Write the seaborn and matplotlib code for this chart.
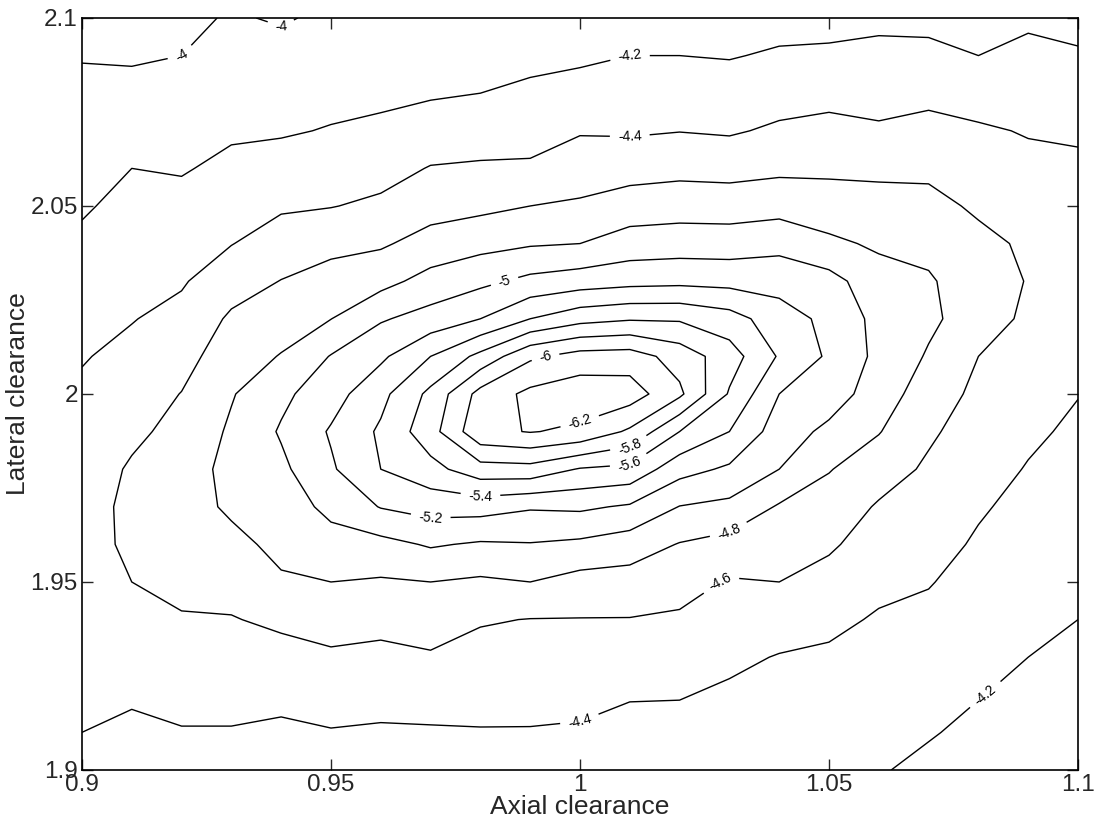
import numpy as np
import matplotlib
matplotlib.use("Agg")
import matplotlib.pyplot as plt
import seaborn as sns

# axis grid (x = axial clearance, y = lateral clearance, top row first)
axial = [0.90, 0.91, 0.92, 0.93, 0.94, 0.95, 0.96, 0.97, 0.98, 0.99, 1.00,
         1.01, 1.02, 1.03, 1.04, 1.05, 1.06, 1.07, 1.08, 1.09, 1.10]
lateral = [2.10, 2.09, 2.08, 2.07, 2.06, 2.05, 2.04, 2.03, 2.02, 2.01, 2.00,
           1.99, 1.98, 1.97, 1.96, 1.95, 1.94, 1.93, 1.92, 1.91, 1.90]

# field values, one list per lateral row
row_210 = [-3.95, -3.94, -3.95, -4.02, -3.98, -4.04, -4.03, -4.04, -4.05, -4.06, -4.08, -4.10, -4.11, -4.13, -4.14, -4.14, -4.16, -4.16, -4.15, -4.17, -4.15]
row_209 = [-3.99, -3.98, -4.00, -4.07, -4.07, -4.095, -4.10, -4.11, -4.12, -4.15, -4.165, -4.20, -4.20, -4.19, -4.22, -4.23, -4.245, -4.237, -4.20, -4.244, -4.217]
row_208 = [-4.04, -4.05, -4.06, -4.12, -4.125, -4.15, -4.16, -4.18, -4.20, -4.236, -4.274, -4.287, -4.297, -4.28, -4.32, -4.342, -4.33, -4.35, -4.315, -4.314, -4.296]
row_207 = [-4.09, -4.127, -4.124, -4.176, -4.183, -4.21, -4.237, -4.287, -4.31, -4.326, -4.385, -4.378, -4.395, -4.379, -4.43, -4.456, -4.425, -4.46, -4.425, -4.387, -4.377]
row_206 = [-4.135, -4.20, -4.186, -4.24, -4.27, -4.30, -4.33, -4.41, -4.424, -4.427, -4.50, -4.52, -4.543, -4.532, -4.56, -4.565, -4.56, -4.56, -4.50, -4.45, -4.43]
row_205 = [-4.18, -4.25, -4.252, -4.317, -4.375, -4.393, -4.436, -4.524, -4.553, -4.60, -4.627, -4.695, -4.714, -4.707, -4.726, -4.688, -4.67, -4.657, -4.57, -4.52, -4.47]
row_204 = [-4.233, -4.297, -4.317, -4.394, -4.49, -4.546, -4.575, -4.674, -4.737, -4.78, -4.80, -4.887, -4.903, -4.90, -4.94, -4.84, -4.77, -4.75, -4.65, -4.57, -4.50]
row_203 = [-4.284, -4.344, -4.381, -4.515, -4.605, -4.676, -4.736, -4.871, -4.953, -5.05, -5.10, -5.136, -5.15, -5.136, -5.125, -5.07, -4.88, -4.82, -4.70, -4.59, -4.51]
row_202 = [-4.337, -4.392, -4.455, -4.63, -4.71, -4.797, -4.98, -5.076, -5.20, -5.40, -5.53, -5.58, -5.576, -5.484, -5.29, -5.15, -4.94, -4.84, -4.70, -4.56, -4.50]
row_201 = [-4.388, -4.448, -4.531, -4.705, -4.81, -5.01, -5.162, -5.40, -5.656, -5.965, -6.08, -6.094, -5.917, -5.69, -5.38, -5.17, -4.95, -4.78, -4.60, -4.51, -4.46]
row_200 = [-4.43, -4.506, -4.605, -4.785, -4.955, -5.117, -5.343, -5.65, -6.07, -6.25, -6.32, -6.30, -6.04, -5.58, -5.20, -5.10, -4.90, -4.70, -4.556, -4.47, -4.405]
row_199 = [-4.47, -4.565, -4.65, -4.83, -5.02, -5.22, -5.43, -5.72, -6.15, -6.21, -6.16, -5.967, -5.60, -5.40, -5.10, -4.954, -4.81, -4.63, -4.51, -4.43, -4.37]
row_198 = [-4.51, -4.62, -4.70, -4.86, -4.957, -5.174, -5.40, -5.535, -5.718, -5.73, -5.585, -5.55, -5.273, -5.168, -5.00, -4.81, -4.69, -4.57, -4.466, -4.39, -4.33]
row_197 = [-4.53, -4.64, -4.72, -4.83, -4.90, -5.05, -5.21, -5.276, -5.28, -5.22, -5.234, -5.175, -4.994, -4.95, -4.78, -4.716, -4.58, -4.517, -4.42, -4.35, -4.29]
row_196 = [-4.54, -4.63, -4.70, -4.75, -4.847, -4.927, -4.94, -5.02, -4.977, -4.99, -4.96, -4.897, -4.79, -4.729, -4.69, -4.626, -4.515, -4.464, -4.378, -4.31, -4.26]
row_195 = [-4.54, -4.60, -4.65, -4.67, -4.778, -4.80, -4.78, -4.80, -4.77, -4.80, -4.727, -4.72, -4.676, -4.583, -4.60, -4.536, -4.447, -4.41, -4.335, -4.28, -4.23]
row_194 = [-4.52, -4.537, -4.585, -4.59, -4.637, -4.68, -4.66, -4.688, -4.616, -4.595, -4.594, -4.593, -4.572, -4.512, -4.49, -4.445, -4.38, -4.357, -4.29, -4.24, -4.20]
row_193 = [-4.48, -4.479, -4.52, -4.52, -4.535, -4.57, -4.55, -4.58, -4.536, -4.526, -4.522, -4.505, -4.49, -4.44, -4.39, -4.37, -4.33, -4.31, -4.25, -4.20, -4.17]
row_192 = [-4.44, -4.419, -4.45, -4.45, -4.443, -4.477, -4.457, -4.48, -4.46, -4.455, -4.449, -4.414, -4.41, -4.37, -4.33, -4.31, -4.29, -4.26, -4.205, -4.17, -4.14]
row_191 = [-4.40, -4.37, -4.39, -4.39, -4.37, -4.39, -4.38, -4.38, -4.39, -4.39, -4.38, -4.34, -4.34, -4.31, -4.28, -4.26, -4.25, -4.21, -4.17, -4.14, -4.11]
row_190 = [-4.36, -4.33, -4.34, -4.34, -4.32, -4.33, -4.32, -4.32, -4.33, -4.33, -4.32, -4.29, -4.28, -4.26, -4.24, -4.22, -4.21, -4.17, -4.13, -4.11, -4.08]

levels = [-6.2, -6.0, -5.8, -5.6, -5.4, -5.2, -5.0, -4.8, -4.6, -4.4, -4.2, -4.0]
x_ticks = [0.9, 0.95, 1.0, 1.05, 1.1]
x_tick_labels = ["0.9", "0.95", "1", "1.05", "1.1"]
y_ticks = [1.9, 1.95, 2.0, 2.05, 2.1]
y_tick_labels = ["1.9", "1.95", "2", "2.05", "2.1"]

Z = np.array([row_210, row_209, row_208, row_207, row_206, row_205, row_204,
              row_203, row_202, row_201, row_200, row_199, row_198, row_197,
              row_196, row_195, row_194, row_193, row_192, row_191, row_190])
X, Y = np.meshgrid(np.array(axial), np.array(lateral))

sns.set_style("white")
plt.rcParams["font.family"] = ["Liberation Sans", "DejaVu Sans"]
plt.rcParams["contour.negative_linestyle"] = "solid"

fig = plt.figure(figsize=(10.97, 8.25), dpi=100)
ax = fig.add_axes([0.0747, 0.0667, 0.908, 0.9115])

cs = ax.contour(X, Y, Z, levels=levels, colors="black", linewidths=1.0,
                linestyles="solid")
ax.clabel(cs, levels=levels, fmt="%g", fontsize=10, inline=True, inline_spacing=8)

ax.set_xlim(0.9, 1.1)
ax.set_ylim(1.9, 2.1)
ax.set_xticks(x_ticks)
ax.set_xticklabels(x_tick_labels)
ax.set_yticks(y_ticks)
ax.set_yticklabels(y_tick_labels)
ax.tick_params(direction="in", length=8, width=1.0, labelsize=17.5,
               top=True, right=True, bottom=True, left=True, pad=3)
for s in ax.spines.values():
    s.set_color("black")
    s.set_linewidth(1.2)
ax.set_xlabel("Axial clearance", fontsize=19, labelpad=-1)
ax.set_ylabel("Lateral clearance", fontsize=19, labelpad=0)

fig.savefig("out.png", dpi=100, facecolor="white")
